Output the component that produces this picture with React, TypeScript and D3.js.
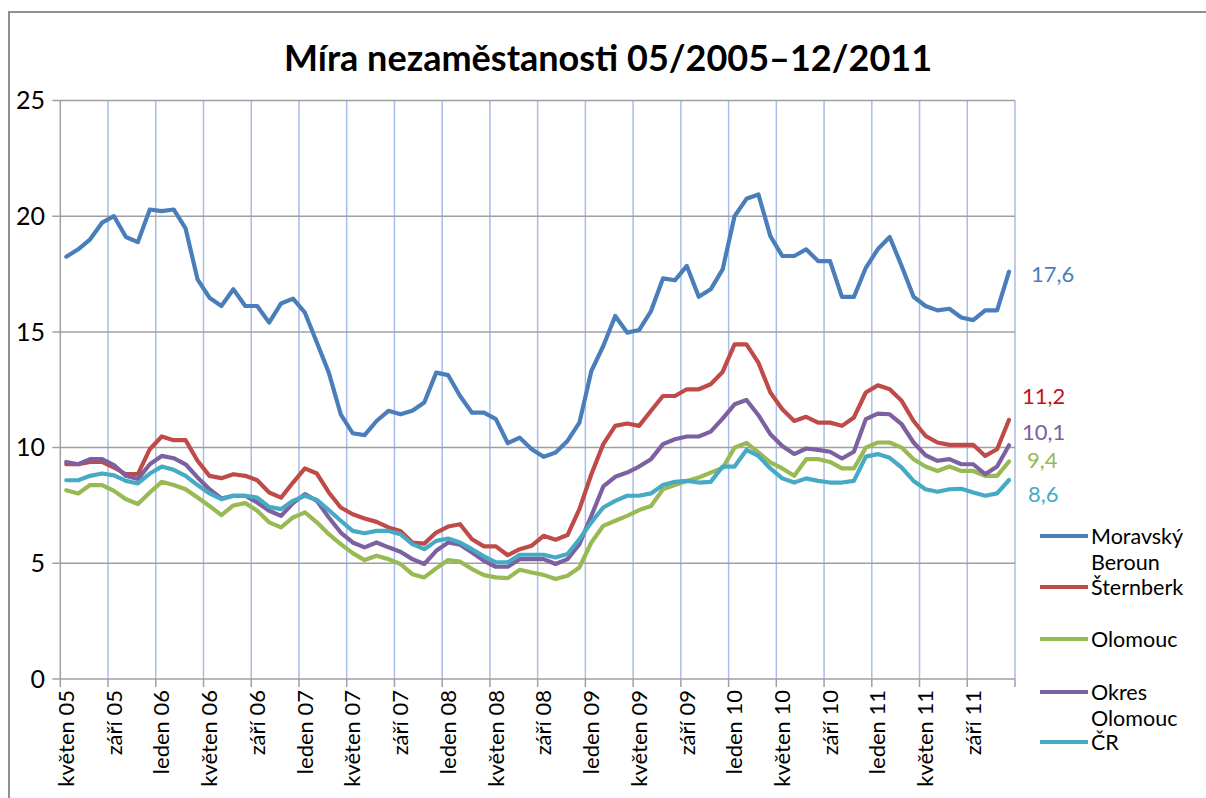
import React from "react";
import * as d3 from "d3";

const monthNames = ["leden", "únor", "březen", "duben", "květen", "červen", "červenec", "srpen", "září", "říjen", "listopad", "prosinec"];
const startYear = 2005;
const startMonth = 4; // květen
const monthCount = 80;
const categories: string[] = Array.from({ length: monthCount }, (_, i) => {
  const m = (startMonth + i) % 12;
  const y = startYear + Math.floor((startMonth + i) / 12);
  return `${monthNames[m]} ${String(y % 100).padStart(2, "0")}`;
});

const yTicks = [0, 5, 10, 15, 20, 25];

const moravskyBeroun = [18.25, 18.57, 19.0, 19.72, 20.0, 19.1, 18.88, 20.29, 20.22, 20.29, 19.47, 17.27, 16.48, 16.12, 16.84, 16.12, 16.12, 15.4, 16.23, 16.44, 15.83, 14.54, 13.24, 11.44, 10.62, 10.54, 11.15, 11.59, 11.44, 11.59, 11.95, 13.24, 13.13, 12.23, 11.51, 11.51, 11.23, 10.19, 10.43, 9.93, 9.6, 9.79, 10.29, 11.08, 13.31, 14.39, 15.69, 14.97, 15.08, 15.9, 17.31, 17.23, 17.85, 16.52, 16.84, 17.7, 20.0, 20.75, 20.94, 19.14, 18.28, 18.28, 18.57, 18.06, 18.06, 16.51, 16.51, 17.77, 18.57, 19.1, 17.85, 16.52, 16.12, 15.93, 16.0, 15.62, 15.51, 15.93, 15.93, 17.6];
const sternberk = [9.28, 9.28, 9.38, 9.38, 9.14, 8.85, 8.85, 9.93, 10.48, 10.32, 10.32, 9.43, 8.78, 8.68, 8.85, 8.78, 8.59, 8.06, 7.84, 8.49, 9.1, 8.88, 8.06, 7.41, 7.12, 6.94, 6.79, 6.55, 6.4, 5.9, 5.85, 6.33, 6.59, 6.69, 6.04, 5.73, 5.73, 5.35, 5.61, 5.76, 6.19, 6.02, 6.22, 7.34, 8.85, 10.15, 10.94, 11.04, 10.94, 11.59, 12.23, 12.23, 12.52, 12.52, 12.74, 13.27, 14.46, 14.46, 13.67, 12.38, 11.66, 11.15, 11.33, 11.08, 11.08, 10.94, 11.3, 12.38, 12.69, 12.52, 12.02, 11.15, 10.51, 10.22, 10.12, 10.12, 10.12, 9.64, 9.93, 11.2];
const olomouc = [8.16, 8.02, 8.38, 8.38, 8.13, 7.77, 7.56, 8.06, 8.52, 8.38, 8.2, 7.84, 7.48, 7.08, 7.5, 7.6, 7.27, 6.77, 6.55, 6.98, 7.2, 6.77, 6.26, 5.83, 5.44, 5.14, 5.33, 5.18, 4.97, 4.53, 4.39, 4.78, 5.14, 5.07, 4.75, 4.49, 4.39, 4.36, 4.72, 4.6, 4.5, 4.32, 4.46, 4.82, 5.9, 6.62, 6.84, 7.05, 7.3, 7.48, 8.2, 8.38, 8.56, 8.71, 8.92, 9.12, 10.0, 10.2, 9.79, 9.36, 9.1, 8.78, 9.5, 9.5, 9.38, 9.1, 9.1, 10.0, 10.22, 10.22, 10.0, 9.5, 9.18, 8.99, 9.18, 8.99, 8.99, 8.78, 8.78, 9.4];
const okresOlomouc = [9.38, 9.28, 9.5, 9.5, 9.24, 8.78, 8.64, 9.28, 9.64, 9.54, 9.28, 8.71, 8.2, 7.8, 7.92, 7.92, 7.63, 7.27, 7.05, 7.6, 7.99, 7.7, 6.98, 6.33, 5.9, 5.69, 5.9, 5.69, 5.5, 5.18, 4.97, 5.54, 5.9, 5.8, 5.47, 5.11, 4.85, 4.85, 5.18, 5.18, 5.18, 4.97, 5.18, 5.83, 7.05, 8.32, 8.74, 8.92, 9.18, 9.5, 10.15, 10.36, 10.48, 10.48, 10.69, 11.25, 11.87, 12.06, 11.4, 10.58, 10.07, 9.72, 9.96, 9.9, 9.82, 9.53, 9.82, 11.23, 11.47, 11.44, 11.01, 10.22, 9.67, 9.43, 9.5, 9.28, 9.28, 8.85, 9.18, 10.1];
const cr = [8.59, 8.59, 8.78, 8.88, 8.8, 8.56, 8.45, 8.88, 9.18, 9.04, 8.78, 8.38, 8.02, 7.77, 7.92, 7.92, 7.84, 7.44, 7.34, 7.7, 7.92, 7.74, 7.3, 6.84, 6.4, 6.3, 6.4, 6.4, 6.26, 5.83, 5.61, 5.97, 6.07, 5.9, 5.61, 5.3, 5.04, 5.04, 5.37, 5.37, 5.37, 5.25, 5.4, 6.04, 6.77, 7.41, 7.7, 7.92, 7.92, 8.02, 8.38, 8.52, 8.56, 8.49, 8.52, 9.18, 9.18, 9.9, 9.64, 9.1, 8.67, 8.49, 8.67, 8.56, 8.49, 8.49, 8.56, 9.61, 9.72, 9.56, 9.14, 8.56, 8.2, 8.09, 8.2, 8.22, 8.06, 7.92, 8.02, 8.6];

const seriesNames = [["Moravský", "Beroun"], ["Šternberk"], ["Olomouc"], ["Okres", "Olomouc"], ["ČR"]];
const seriesValues = [moravskyBeroun, sternberk, olomouc, okresOlomouc, cr];
const seriesColors = ["#4a7ebb", "#be4b48", "#98b954", "#7d60a0", "#46aac5"];
const endLabelColors = ["#4a7ebb", "#c0141c", "#7d60a0", "#98b954", "#46aac5"];
const endLabelOrder = [0, 1, 3, 2, 4];
const endLabelY = [274, 396, 432, 460, 494];
const endLabelX = [1031, 1022, 1022, 1027, 1028];
const legendLineY = [536, 587, 639, 692, 742];

const FONT = "Lato, 'Open Sans', sans-serif";

export default function App() {
  const left = 60.3, right = 1015, top = 100.5, bottom = 679;
  const x = d3.scalePoint<number>().domain(d3.range(monthCount)).range([left, right]).padding(0.5);
  const step = x.step();
  const y = d3.scaleLinear().domain([0, 25]).range([bottom, top]);
  const line = d3.line<number>().x((_, i) => x(i) as number).y((d) => y(d));
  const gridXs = d3.range(0, monthCount + 1, 4).map((k) => left + k * step);
  const tickIdx = d3.range(0, monthCount, 4);

  return (
    <svg width={1206} height={798} style={{ position: "absolute", left: 0, top: 0, background: "#fff" }} fontFamily={FONT}>
      <rect x={0} y={0} width={1206} height={798} fill="#fff" />
      <rect x={9} y={12} width={1230} height={820} fill="none" stroke="#8f8f8f" strokeWidth={2} />
      <text x={608} y={71} textAnchor="middle" fontSize={36} fontWeight={700} fill="#000">
        Míra nezaměstanosti 05/2005–12/2011
      </text>
      {gridXs.slice(1).map((gx, i) => (
        <line key={"vg" + i} x1={gx} x2={gx} y1={top} y2={bottom} stroke="#a7bdea" strokeWidth={1.5} />
      ))}
      {yTicks.map((t) => (
        <line key={"hg" + t} x1={left - 8} x2={right} y1={y(t)} y2={y(t)} stroke="#a0a0a0" strokeWidth={1.5} />
      ))}
      <line x1={left} x2={left} y1={top} y2={bottom} stroke="#a0a0a0" strokeWidth={1.5} />
      {gridXs.map((gx, i) => (
        <line key={"xt" + i} x1={gx} x2={gx} y1={bottom} y2={bottom + 8} stroke="#a0a0a0" strokeWidth={1.5} />
      ))}
      {yTicks.map((t) => (
        <text key={"yl" + t} x={45} y={y(t)} dy="0.35em" textAnchor="end" fontSize={25} fill="#000">
          {t}
        </text>
      ))}
      {tickIdx.map((i) => (
        <text
          key={"xl" + i}
          transform={`translate(${x(i)},${bottom + 11}) rotate(-90)`}
          textAnchor="end"
          dy="0.35em"
          fontSize={22}
          fill="#000"
        >
          {categories[i]}
        </text>
      ))}
      {seriesValues.map((vals, s) => (
        <path key={"s" + s} d={line(vals) || ""} fill="none" stroke={seriesColors[s]} strokeWidth={4.2} strokeLinejoin="round" strokeLinecap="round" />
      ))}
      {endLabelOrder.map((s, k) => (
        <text key={"el" + s} x={endLabelX[k]} y={endLabelY[k]} dy="0.35em" fontSize={22} fill={endLabelColors[k]}>
          {seriesValues[s][monthCount - 1].toFixed(1).replace(".", ",")}
        </text>
      ))}
      {seriesNames.map((names, s) => (
        <g key={"lg" + s}>
          <line x1={1040} x2={1088} y1={legendLineY[s]} y2={legendLineY[s]} stroke={seriesColors[s]} strokeWidth={4} />
          {names.map((n, j) => (
            <text key={j} x={1091} y={legendLineY[s] + j * 26} dy="0.35em" fontSize={21.5} fill="#000">
              {n}
            </text>
          ))}
        </g>
      ))}
    </svg>
  );
}
